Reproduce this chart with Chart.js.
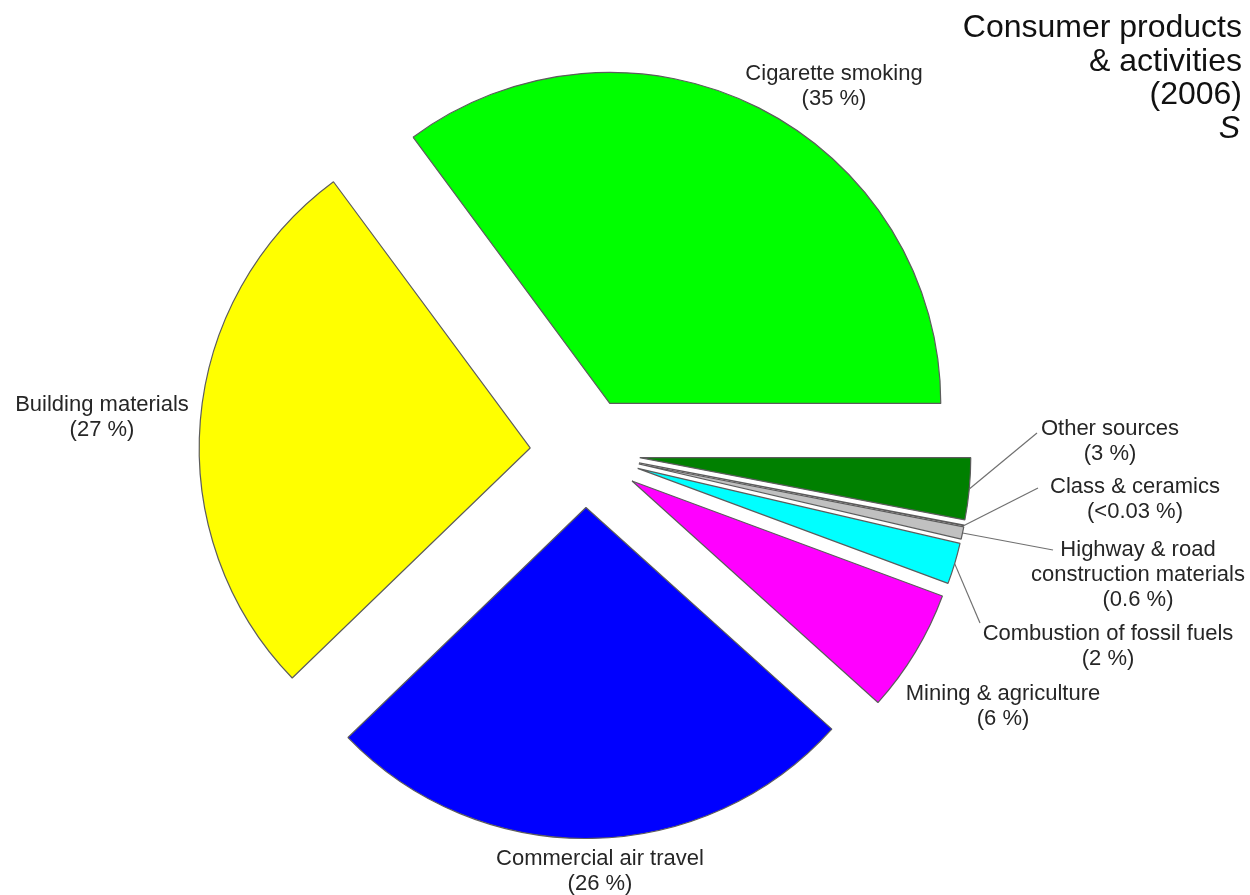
<!DOCTYPE html>
<html>
<head>
<meta charset="utf-8">
<title>Consumer products & activities (2006)</title>
<script src="https://cdn.jsdelivr.net/npm/chart.js@4.4.1/dist/chart.umd.min.js"></script>
<style>
  html, body { margin: 0; padding: 0; background: #fff; }
  canvas { display: block; }
</style>
</head>
<body>
<canvas id="diagramm" width="1250" height="895"></canvas>
<script>
// slices in drawing order, clockwise from 3 o'clock
const sources = [
  'Other sources',
  'Class & ceramics',
  'Highway & road\nconstruction materials',
  'Combustion of fossil fuels',
  'Mining & agriculture',
  'Commercial air travel',
  'Building materials',
  'Cigarette smoking'
];
const shares = [3, 0.03, 0.6, 2, 6, 26, 27, 35];
const shareQualifier = ['', '<', '', '', '', '', '', ''];
const sliceColors = ['#008000', '#800000', '#c0c0c0', '#00ffff', '#ff00ff', '#0000ff', '#ffff00', '#00ff00'];

const titleLines = ['Consumer products', '& activities', '(2006)'];
const titleTag = 'S';

// caption placement: centre of the first text line, and end of the leader line (if any)
const captionPos = [
  [1110, 429], [1135, 487], [1138, 550], [1108, 634],
  [1003, 694], [600, 859], [102, 405], [834, 74]
];
const leaderEnd = [[1037, 433], [1038, 488], [1053, 550], [980, 623], null, null, null, null];

const FONT = '"Liberation Sans", Arial, Helvetica, sans-serif';

// every slice is pulled out from the centre along its own bisector
const explode = {
  id: 'explode',
  beforeDatasetDraw(chart, args, opts) {
    const ctx = chart.ctx;
    args.meta.data.forEach(arc => {
      const mid = (arc.startAngle + arc.endAngle) / 2;
      ctx.save();
      ctx.translate(Math.cos(mid) * opts.distance, Math.sin(mid) * opts.distance);
      arc.draw(ctx, chart.chartArea);
      ctx.restore();
    });
    return false;
  }
};

// slice captions, leader lines and the title block
const captions = {
  id: 'captions',
  afterDraw(chart, args, opts) {
    const ctx = chart.ctx;
    const meta = chart.getDatasetMeta(0);
    const dist = chart.options.plugins.explode.distance;
    ctx.save();

    ctx.strokeStyle = '#707070';
    ctx.lineWidth = 1.2;
    meta.data.forEach((arc, i) => {
      if (!leaderEnd[i]) return;
      const mid = (arc.startAngle + arc.endAngle) / 2;
      const r = arc.outerRadius + dist;
      ctx.beginPath();
      ctx.moveTo(arc.x + Math.cos(mid) * r, arc.y + Math.sin(mid) * r);
      ctx.lineTo(leaderEnd[i][0], leaderEnd[i][1]);
      ctx.stroke();
    });

    ctx.fillStyle = '#262626';
    ctx.font = '22px ' + FONT;
    ctx.textAlign = 'center';
    ctx.textBaseline = 'middle';
    sources.forEach((name, i) => {
      const lines = name.split('\n').concat('(' + shareQualifier[i] + shares[i] + ' %)');
      const [x, y] = captionPos[i];
      lines.forEach((t, k) => ctx.fillText(t, x, y + k * opts.lineHeight));
    });

    ctx.fillStyle = '#111';
    ctx.textAlign = 'right';
    ctx.textBaseline = 'alphabetic';
    ctx.font = '32px ' + FONT;
    titleLines.forEach((t, k) => ctx.fillText(t, 1242, 37 + k * 33.5));
    ctx.font = 'italic 32px ' + FONT;
    ctx.fillText(titleTag, 1240, 37 + titleLines.length * 33.5);

    ctx.restore();
  }
};

new Chart(document.getElementById('diagramm'), {
  type: 'pie',
  data: {
    labels: sources,
    datasets: [{
      data: shares,
      backgroundColor: sliceColors,
      borderColor: '#5c5c5c',
      borderWidth: 1.2,
      radius: 331
    }]
  },
  options: {
    responsive: false,
    devicePixelRatio: 1,
    animation: false,
    events: [],
    rotation: 90,
    layout: { padding: { left: 0, right: 80, top: 10, bottom: 0 } },
    plugins: {
      legend: { display: false },
      tooltip: { enabled: false },
      explode: { distance: 55 },
      captions: { lineHeight: 25 }
    }
  },
  plugins: [explode, captions]
});
</script>
</body>
</html>
